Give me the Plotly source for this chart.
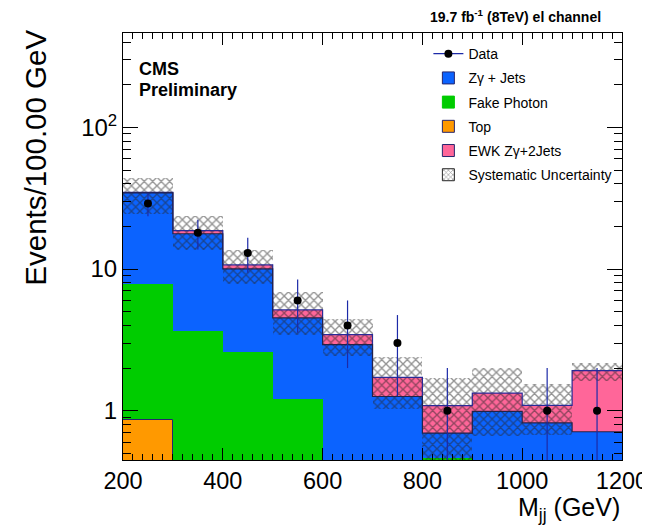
import numpy as np
import plotly.graph_objects as go

# ---------------- data ----------------
bin_edges = [200, 300, 400, 500, 600, 700, 800, 900, 1000, 1100, 1200]
top_bkg = [0.86, 0, 0, 0, 0, 0, 0, 0, 0, 0]
fake_photon = [7.0, 3.64, 2.61, 1.2, 0, 0, 0.46, 0, 0, 0]
zgamma_jets = [26.6, 14.1, 7.4, 3.32, 2.93, 1.26, 0.235, 0.99, 0.82, 0.71]
ewk_zgamma = [0.35, 0.9, 0.7, 0.63, 0.51, 0.46, 0.39, 0.34, 0.27, 1.21]
data_counts = [29, 18, 13, 6, 4, 3, 1, None, 1, 1]
syst_up = [44.1, 23.5, 13.7, 6.9, 4.47, 2.41, 1.69, 1.99, 1.54, 2.17]
syst_down = [24.5, 13.7, 7.86, 3.43, 2.42, 1.03, 0.40, 0.66, 0.67, 1.63]
y_tick_vals = [1, 10, 100]
y_tick_text = ["1", "10", "10<sup>2</sup>"]
x_tick_vals = [200, 400, 600, 800, 1000, 1200]

# ---------------- derived ----------------
edges = np.array(bin_edges, dtype=float)
centers = 0.5 * (edges[:-1] + edges[1:])
widths = np.diff(edges)
c_top = np.array(top_bkg, dtype=float)
c_fake = c_top + np.array(fake_photon)
c_zj = c_fake + np.array(zgamma_jets)
c_ewk = c_zj + np.array(ewk_zgamma)

def nz(a):
    return [v if v > 0 else None for v in a]

BLUE = "#0b63ff"
GREEN = "#00cc00"
ORANGE = "#ff9900"
PINK = "#ff6699"
NAVY = "#26266e"
HATCH = "#262626"
FONT = "Liberation Sans, Arial, Helvetica, sans-serif"

fig = go.Figure()

# stacked histograms (cumulative, drawn back to front)
fig.add_trace(go.Bar(x=centers, y=nz(c_ewk), width=widths, marker=dict(color=PINK, line=dict(width=0)),
                     showlegend=False, hoverinfo="skip"))
fig.add_trace(go.Bar(x=centers, y=nz(c_zj), width=widths, marker=dict(color=BLUE, line=dict(width=0)),
                     showlegend=False, hoverinfo="skip"))
fig.add_trace(go.Bar(x=centers, y=nz(c_fake), width=widths, marker=dict(color=GREEN, line=dict(width=0)),
                     showlegend=False, hoverinfo="skip"))
fig.add_trace(go.Bar(x=centers, y=nz(c_top), width=widths,
                     marker=dict(color=ORANGE, line=dict(width=1, color=NAVY)),
                     showlegend=False, hoverinfo="skip"))

# step outlines
fig.add_trace(go.Scatter(x=edges, y=list(c_ewk) + [c_ewk[-1]], mode="lines", line_shape="hv",
                         line=dict(color="#2a2a96", width=1.2), showlegend=False, hoverinfo="skip"))
fig.add_trace(go.Scatter(x=edges, y=list(c_zj) + [c_zj[-1]], mode="lines", line_shape="hv",
                         line=dict(color="#22224a", width=1.2), showlegend=False, hoverinfo="skip"))

# systematic uncertainty hatch
up = np.array(syst_up)
dn = np.array(syst_down)
fig.add_trace(go.Bar(x=centers, y=up - dn, base=dn, width=widths,
                     marker=dict(color="rgba(0,0,0,0)", line=dict(width=0),
                                 pattern=dict(shape="x", fgcolor=HATCH, bgcolor="rgba(0,0,0,0)",
                                              size=6, solidity=0.4)),
                     showlegend=False, hoverinfo="skip"))

# data
derr = [np.sqrt(v) if v else None for v in data_counts]
fig.add_trace(go.Scatter(x=centers, y=data_counts, mode="markers",
                         marker=dict(color="black", size=8),
                         error_y=dict(type="data", array=derr, visible=True, color="#1c2aa8",
                                      thickness=1.2, width=0),
                         showlegend=False, hoverinfo="skip"))

# legend entries
fig.add_trace(go.Scatter(x=[None], y=[None], mode="lines+markers", name="Data",
                         line=dict(color="#1c2aa8", width=1.2), marker=dict(color="black", size=8),
                         legendgroup="a", legendrank=1))
fig.add_trace(go.Bar(x=[None], y=[None], name="Z\u03b3 + Jets",
                     marker=dict(color=BLUE, line=dict(color=NAVY, width=1)), legendgroup="b", legendrank=2))
fig.add_trace(go.Bar(x=[None], y=[None], name="Fake Photon",
                     marker=dict(color=GREEN, line=dict(color=GREEN, width=1)), legendgroup="c", legendrank=3))
fig.add_trace(go.Bar(x=[None], y=[None], name="Top",
                     marker=dict(color=ORANGE, line=dict(color=NAVY, width=1)), legendgroup="d", legendrank=4))
fig.add_trace(go.Bar(x=[None], y=[None], name="EWK Z\u03b3+2Jets",
                     marker=dict(color=PINK, line=dict(color=NAVY, width=1)), legendgroup="e", legendrank=5))
fig.add_trace(go.Bar(x=[None], y=[None], name="Systematic Uncertainty",
                     marker=dict(color="white", line=dict(color=HATCH, width=1),
                                 pattern=dict(shape="x", fgcolor=HATCH, bgcolor="white",
                                              size=4, solidity=0.35)),
                     legendgroup="f", legendrank=6))

minor_y = [m * 10.0 ** e for e in (-1, 0, 1, 2) for m in range(2, 10)]

fig.update_layout(
    width=642, height=518,
    margin=dict(l=115, r=28, t=25, b=66, autoexpand=False),
    paper_bgcolor="white", plot_bgcolor="white",
    barmode="overlay", bargap=0,
    font=dict(family=FONT, color="black"),
    showlegend=True,
    legend=dict(x=0.612, y=0.988, xanchor="left", yanchor="top", bgcolor="rgba(0,0,0,0)",
                font=dict(size=14, family=FONT), tracegroupgap=3, traceorder="grouped"),
    xaxis=dict(range=[200, 1200], tickmode="array", tickvals=x_tick_vals, automargin=False,
               ticks="inside", ticklen=12, tickwidth=1, tickcolor="black",
               showline=True, linecolor="black", linewidth=1, mirror="ticks",
               showgrid=False, zeroline=False, tickfont=dict(size=23.5, family=FONT),
               minor=dict(ticks="inside", dtick=20, tick0=200, ticklen=6, tickcolor="black", showgrid=False)),
    yaxis=dict(type="log", range=[-0.348, 2.666], tickmode="array", tickvals=y_tick_vals, automargin=False,
               ticktext=y_tick_text, ticks="inside", ticklen=15, tickwidth=1, tickcolor="black",
               showline=True, linecolor="black", linewidth=1, mirror="ticks",
               showgrid=False, zeroline=False, tickfont=dict(size=24, family=FONT),
               minor=dict(ticks="inside", tickmode="array", tickvals=minor_y, ticklen=8,
                          tickcolor="black", showgrid=False)),
    annotations=[
        dict(text="<b>19.7 fb<sup>-1</sup> (8TeV) el channel</b>", xref="paper", yref="paper",
             x=0.9625, y=1.039, xanchor="right", yanchor="middle", showarrow=False,
             font=dict(size=14, family=FONT)),
        dict(text="<b>CMS</b>", xref="paper", yref="paper", x=0.0287, y=0.915,
             xanchor="left", yanchor="middle", showarrow=False, font=dict(size=18, family=FONT)),
        dict(text="<b>Preliminary</b>", xref="paper", yref="paper", x=0.0287, y=0.866,
             xanchor="left", yanchor="middle", showarrow=False, font=dict(size=18, family=FONT)),
        dict(text="Events/100.00 GeV", xref="paper", yref="paper", x=-0.1758, y=0.7086,
             xanchor="center", yanchor="middle", textangle=-90, showarrow=False,
             font=dict(size=29.5, family=FONT)),
        dict(text="M<sub>jj</sub> (GeV)", xref="paper", yref="paper", x=1.0, y=-0.114,
             xanchor="right", yanchor="middle", showarrow=False, font=dict(size=25, family=FONT)),
    ],
)

fig.write_html("out.html")
